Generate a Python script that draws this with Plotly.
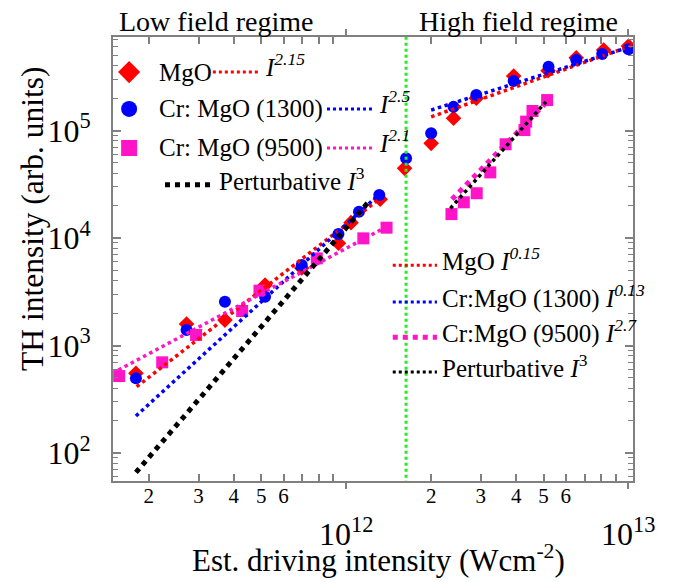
import plotly.graph_objects as go

FONT = "Liberation Serif"
RED = "#ff0000"
BLUE = "#0000ff"
MAG = "#ff14c8"
GREEN = "#22ee22"
AXC = "#808080"

# ---------------- data ----------------
mgo_x = [1.80e11, 2.72e11, 3.72e11, 5.16e11, 6.96e11, 9.39e11, 1.04e12, 1.32e12, 1.61e12,
         2.0e12, 2.4e12, 2.89e12, 3.92e12, 5.19e12, 6.53e12, 8.17e12, 1.0e13]
mgo_y = [551, 1585, 1725, 3650, 5260, 8930, 13900, 23000, 44500,
         76000, 130000, 200000, 321000, 360000, 475000, 561000, 611000]

cr1300_x = [1.80e11, 2.72e11, 3.72e11, 5.16e11, 6.96e11, 9.39e11, 1.11e12, 1.31e12, 1.63e12,
            2.0e12, 2.4e12, 2.89e12, 3.92e12, 5.21e12, 6.53e12, 8.07e12, 1.0e13]
cr1300_y = [495, 1393, 2550, 2840, 5610, 10900, 17600, 25100, 55100,
            94200, 166000, 214000, 289000, 392000, 453000, 515000, 569000]

cr9500_x = [1.57e11, 2.23e11, 2.94e11, 4.28e11, 4.93e11, 7.87e11, 1.15e12, 1.39e12,
            2.36e12, 2.61e12, 2.9e12, 3.24e12, 3.67e12, 4.28e12, 4.34e12, 4.57e12, 5.15e12]
cr9500_y = [520, 698, 1254, 2095, 3240, 6470, 9930, 12480,
            16700, 21500, 26100, 40800, 74500, 101000, 121000, 152000, 192000]

# fitted power laws (end points)
fit_mgo_low_x, fit_mgo_low_y = [1.81e11, 1.32e12], [414, 23400]
fit_cr1300_low_x, fit_cr1300_low_y = [1.80e11, 1.30e12], [221, 25100]
fit_cr9500_low_x, fit_cr9500_low_y = [1.56e11, 1.355e12], [592, 12300]
pert_low_x, pert_low_y = [1.80e11, 1.216e12], [66, 22600]
fit_mgo_high_x, fit_mgo_high_y = [2.0e12, 1.04e13], [134000, 624000]
fit_cr1300_high_x, fit_cr1300_high_y = [2.0e12, 1.02e13], [155000, 603000]
fit_cr9500_high_x, fit_cr9500_high_y = [2.37e12, 5.08e12], [22900, 179000]
pert_high_x, pert_high_y = [2.34e12, 5.1e12], [18900, 185000]

divider_x = [1.63e12, 1.63e12]
divider_y = [40, 9e5]

x_minor_labels = ["2", "3", "4", "5", "6", "", "", ""]
y_tick_vals = [100, 1000, 10000, 100000]
y_tick_text = ["10<sup>2</sup>", "10<sup>3</sup>", "10<sup>4</sup>", "10<sup>5</sup>"]

fig = go.Figure()

def markers(x, y, sym, col, size, **kw):
    fig.add_trace(go.Scatter(x=x, y=y, mode="markers",
                             marker=dict(symbol=sym, color=col, size=size, line=dict(width=0)),
                             showlegend=False, hoverinfo="skip", **kw))

def line(x, y, col, w, **kw):
    fig.add_trace(go.Scatter(x=x, y=y, mode="lines",
                             line=dict(color=col, width=w, dash="dot"),
                             showlegend=False, hoverinfo="skip", **kw))

markers(mgo_x, mgo_y, "diamond", RED, 12)
markers(cr1300_x, cr1300_y, "circle", BLUE, 12)
markers(cr9500_x, cr9500_y, "square", MAG, 12)

line(fit_mgo_low_x, fit_mgo_low_y, RED, 3.5)
line(fit_cr1300_low_x, fit_cr1300_low_y, BLUE, 3.5)
line(fit_cr9500_low_x, fit_cr9500_low_y, MAG, 3.5)
line(pert_low_x, pert_low_y, "black", 5)
line(fit_mgo_high_x, fit_mgo_high_y, RED, 3.5)
line(fit_cr1300_high_x, fit_cr1300_high_y, BLUE, 3.5)
line(fit_cr9500_high_x, fit_cr9500_high_y, MAG, 5)
line(pert_high_x, pert_high_y, "black", 3.5)
line(divider_x, divider_y, GREEN, 3)

# ---------------- hand-made keys on an overlay (paper-like) axis ----------------
L = dict(xaxis="x3", yaxis="y3")
r1, r2, r3, r4 = 0.921, 0.838, 0.750, 0.667
markers([0.031], [r1], "diamond", RED, 17, **L)
markers([0.031], [r2], "circle", BLUE, 16, **L)
markers([0.031], [r3], "square", MAG, 16, **L)
line([0.192, 0.283], [r1, r1], RED, 3, **L)
line([0.4115, 0.498], [r2, r2], BLUE, 3, **L)
line([0.4115, 0.498], [r3, r3], MAG, 3, **L)
line([0.100, 0.1865], [r4, r4], "black", 5, **L)

q1, q2, q3, q4 = 0.486, 0.403, 0.324, 0.2455
line([0.538, 0.623], [q1, q1], RED, 3, **L)
line([0.538, 0.623], [q2, q2], BLUE, 3, **L)
line([0.538, 0.623], [q3, q3], MAG, 5, **L)
line([0.538, 0.623], [q4, q4], "black", 3, **L)

ann = []
def txt(x, y, s, size=25, xanchor="left", **kw):
    d = dict(x=x, y=y, xref="paper", yref="paper", text=s, showarrow=False,
             xanchor=xanchor, yanchor="middle", font=dict(family=FONT, size=size, color="black"))
    d.update(kw)
    ann.append(d)

txt(0.0846, r1, "MgO")
txt(0.0846, r2, "Cr: MgO (1300)")
txt(0.0846, r3, "Cr: MgO (9500)")
txt(0.288, r1 + 0.015, "<i>I</i><sup><i>2.15</i></sup>")
txt(0.508, r2 + 0.015, "<i>I</i><sup><i>2.5</i></sup>")
txt(0.508, r3 + 0.015, "<i>I</i><sup><i>2.1</i></sup>")
txt(0.200, r4 + 0.013, "Perturbative <i>I</i><sup>3</sup>")

txt(0.629, q1 + 0.013, "MgO <i>I</i><sup><i>0.15</i></sup>")
txt(0.629, q2 + 0.013, "Cr:MgO (1300) <i>I</i><sup><i>0.13</i></sup>")
txt(0.629, q3 + 0.013, "Cr:MgO (9500) <i>I</i><sup><i>2.7</i></sup>")
txt(0.629, q4 + 0.013, "Perturbative <i>I</i><sup>3</sup>")

txt(0.008, 1.034, "Low field regime", size=28)
txt(0.585, 1.034, "High field regime", size=28)

# decade labels on x, axis titles
for dec in (12, 13):
    ann.append(dict(x=dec, y=-0.115, xref="x", yref="paper", showarrow=False,
                    text="10<sup>%d</sup>" % dec, xanchor="center", yanchor="middle",
                    font=dict(family=FONT, size=32, color="black")))
txt(0.51, -0.174, "Est. driving intensity (Wcm<sup>-2</sup>)", size=31, xanchor="center")
txt(-0.156, 0.59, "TH intensity (arb. units)", size=31.5, xanchor="center", textangle=-90)

x_ticks = [m * 10 ** e for e in (11, 12) for m in range(2, 10)]
x_text = x_minor_labels * 2
y_minor = [m * 10 ** e for e in (1, 2, 3, 4, 5) for m in range(2, 10)]

fig.update_layout(
    width=677, height=582,
    margin=dict(l=113, r=44, t=37, b=101),
    paper_bgcolor="white", plot_bgcolor="white",
    showlegend=False,
    annotations=ann,
    font=dict(family=FONT, color="black"),
    xaxis=dict(type="log", range=[11.174, 13.016], showgrid=False, zeroline=False,
               showline=True, linecolor=AXC, linewidth=2, mirror="ticks",
               tickmode="array", tickvals=x_ticks, ticktext=x_text,
               ticks="inside", ticklen=7, tickwidth=1.5, tickcolor=AXC,
               tickfont=dict(family=FONT, size=21, color="black"), ticklabelstandoff=-5,
               minor=dict(tickmode="array", tickvals=[1e12, 1e13], ticks="outside",
                          ticklen=6, tickwidth=1.5, tickcolor=AXC)),
    yaxis=dict(type="log", range=[1.74, 5.87], showgrid=False, zeroline=False,
               showline=True, linecolor=AXC, linewidth=2, mirror="ticks",
               tickmode="array", tickvals=y_tick_vals, ticktext=y_tick_text,
               ticks="inside", ticklen=8, tickwidth=1.5, tickcolor=AXC,
               tickfont=dict(family=FONT, size=32, color="black"), ticklabelstandoff=14,
               minor=dict(tickmode="array", tickvals=y_minor, ticks="inside",
                          ticklen=5, tickwidth=1.2, tickcolor=AXC)),
    xaxis3=dict(overlaying="x", range=[0, 1], visible=False, fixedrange=True),
    yaxis3=dict(overlaying="y", range=[0, 1], visible=False, fixedrange=True),
)

fig.write_html("out.html")
